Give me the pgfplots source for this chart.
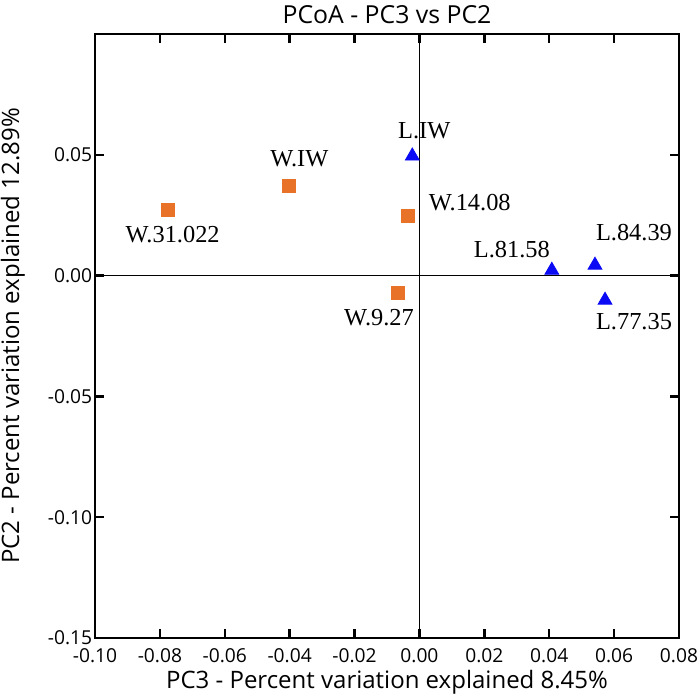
\documentclass[border=0pt]{standalone}
\usepackage{pgfplots}
\pgfplotsset{compat=1.18}
\usepackage{fontspec}
\setmainfont{Open Sans}
\newfontfamily\lblfont{Liberation Serif}
\definecolor{worange}{RGB}{232,115,40}
\definecolor{lblue}{RGB}{10,10,245}
\begin{document}
\begin{tikzpicture}
\begin{axis}[
  name=ax,
  scale only axis,
  width=292pt, height=302pt,
  xmin=-0.1, xmax=0.08, ymin=-0.15, ymax=0.10,
  xtick={-0.1,-0.08,-0.06,-0.04,-0.02,0,0.02,0.04,0.06,0.08},
  ytick={-0.15,-0.1,-0.05,0,0.05,0.10},
  yticklabels={-0.15,-0.10,-0.05,0.00,0.05,},
  xticklabels={-0.10,-0.08,-0.06,-0.04,-0.02,0.00,0.02,0.04,0.06,0.08},
  tick align=inside,
  major tick length=4.5pt,
  tick style={black, line width=1.2pt},
  axis line style={black, line width=1pt},
  ticklabel style={font=\fontsize{9.6}{11}\selectfont, inner sep=0pt},
  yticklabel style={xshift=-1.2pt},
  xticklabel style={yshift=-5pt},
  title={PCoA - PC3 vs PC2},
  title style={font=\fontsize{12.4}{14}\selectfont, inner sep=0pt,
    at={(axis description cs:0.5,1.0199)}, anchor=base, yshift=-6.6pt},
  xlabel={PC3 - Percent variation explained 8.45\%},
  ylabel={PC2 - Percent variation explained 12.89\%},
  label style={font=\fontsize{12}{14}\selectfont, inner sep=0pt},
  xlabel style={at={(axis description cs:0.5,-0.0828)}, anchor=base},
  ylabel style={at={(axis description cs:-0.1301,0.5)}, anchor=base, rotate=0},
  clip=false,
]
\addplot[black, line width=0.6pt, forget plot] coordinates {(0,-0.15) (0,0.10)};
\addplot[black, line width=0.6pt, forget plot] coordinates {(-0.1,0) (0.08,0)};
\addplot[only marks, mark=square*, mark size=3.25pt, color=worange, mark options={draw=worange, fill=worange}]
  coordinates {(-0.0776,0.0270) (-0.0401,0.0373) (-0.0036,0.0246) (-0.0066,-0.0072)};
\addplot[only marks, mark=triangle*, mark size=4pt, color=lblue, mark options={draw=lblue, fill=lblue}]
  coordinates {(-0.0022,0.0495) (0.0408,0.0022) (0.0541,0.0043) (0.0572,-0.0102)};
\begin{scope}[every node/.style={font=\lblfont\fontsize{12.2}{13}\selectfont, inner sep=0pt}]
\node[xshift=2.5pt, yshift=-12pt] at (axis cs:-0.0776,0.0270) {W.31.022};
\node[xshift=5pt, yshift=13.5pt] at (axis cs:-0.0401,0.0373) {W.IW};
\node[xshift=6pt, yshift=11.5pt] at (axis cs:-0.0022,0.0505) {L.IW};
\node[xshift=31pt, yshift=7pt] at (axis cs:-0.0036,0.0246) {W.14.08};
\node[xshift=-9.5pt, yshift=-12.5pt] at (axis cs:-0.0066,-0.0072) {W.9.27};
\node[xshift=-20pt, yshift=9.5pt] at (axis cs:0.0408,0.0029) {L.81.58};
\node[xshift=19.5pt, yshift=15.5pt] at (axis cs:0.0541,0.0050) {L.84.39};
\node[xshift=14.5pt, yshift=-11.5pt] at (axis cs:0.0572,-0.0095) {L.77.35};
\end{scope}
\path (rel axis cs:0,0) ++(-47.5pt,-29.5pt);
\path (rel axis cs:1,1) ++(10.5pt,17pt);
\end{axis}
\end{tikzpicture}
\end{document}
